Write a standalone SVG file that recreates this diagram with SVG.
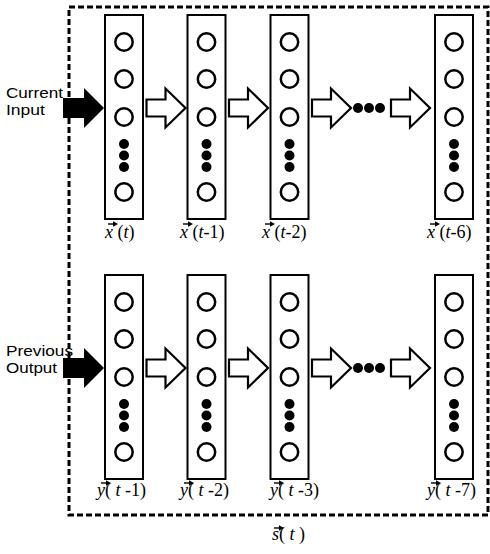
<svg xmlns="http://www.w3.org/2000/svg" width="490" height="554" viewBox="0 0 490 554">
  <style>
    .frame { fill: none; stroke: #000; stroke-width: 3; stroke-dasharray: 6 3; }
    .layer { fill: #fff; stroke: #000; stroke-width: 2; }
    .unit { fill: #fff; stroke: #000; stroke-width: 2.5; }
    .dot { fill: #000; }
    .hollow { fill: #fff; stroke: #000; stroke-width: 2.2; stroke-linejoin: miter; }
    .solid { fill: #000; }
    .side { font-family: "Liberation Sans", Arial, sans-serif; font-size: 15px; fill: #000; }
    .lbl { font-family: "Liberation Serif", "Times New Roman", serif; font-size: 18px; fill: #000; }
    .it { font-style: italic; }
    .vec { stroke: #000; stroke-width: 1.4; fill: none; }
    .vhead { fill: #000; }
  </style>
  <defs>
    <!-- one layer column: box, three units, ellipsis dots, last unit -->
    <g id="column">
      <rect class="layer" x="-19" y="0" width="38" height="204"/>
      <circle class="unit" cx="0" cy="27" r="8.7"/>
      <circle class="unit" cx="0" cy="64" r="8.7"/>
      <circle class="unit" cx="0" cy="102" r="8.7"/>
      <circle class="dot" cx="0" cy="129" r="5"/>
      <circle class="dot" cx="0" cy="140.5" r="5"/>
      <circle class="dot" cx="0" cy="152" r="5"/>
      <circle class="unit" cx="0" cy="177" r="8.7"/>
    </g>
    <path id="hollowArrow" class="hollow" d="M0,-8.5 H19 V-19.5 L39,0 L19,19.5 V8.5 H0 Z"/>
    <path id="solidArrow" class="solid" d="M0,-10 H21 V-20 L41,0 L21,20 V10 H0 Z"/>
    <g id="hdots">
      <circle class="dot" cx="0" cy="0" r="5"/>
      <circle class="dot" cx="11" cy="0" r="5"/>
      <circle class="dot" cx="22" cy="0" r="5"/>
    </g>
    <g id="vecArrow">
      <path class="vec" d="M0,0 H6"/>
      <path class="vhead" d="M5,-2.8 L10,0 L5,2.8 Z"/>
    </g>
  </defs>

  <!-- state boundary -->
  <rect id="state" class="frame" x="69" y="7" width="419" height="508"/>

  <!-- input history row -->
  <g id="x_t"><use href="#column" x="124" y="15"/></g>
  <g id="x_t1"><use href="#column" x="206.5" y="15"/></g>
  <g id="x_t2"><use href="#column" x="289.5" y="15"/></g>
  <g id="x_t6"><use href="#column" x="454" y="15"/></g>

  <!-- output history row -->
  <g id="y_t1"><use href="#column" x="124" y="275"/></g>
  <g id="y_t2"><use href="#column" x="206.5" y="275"/></g>
  <g id="y_t3"><use href="#column" x="289.5" y="275"/></g>
  <g id="y_t7"><use href="#column" x="454" y="275"/></g>

  <!-- connectors -->
  <g id="connectors">
    <use href="#solidArrow" x="63" y="108"/>
    <use href="#hollowArrow" x="146.5" y="108"/>
    <use href="#hollowArrow" x="229" y="108"/>
    <use href="#hollowArrow" x="312" y="108"/>
    <use href="#hdots" x="358" y="108"/>
    <use href="#hollowArrow" x="391" y="108"/>

    <use href="#solidArrow" x="63" y="368"/>
    <use href="#hollowArrow" x="146.5" y="368"/>
    <use href="#hollowArrow" x="229" y="368"/>
    <use href="#hollowArrow" x="312" y="368"/>
    <use href="#hdots" x="358" y="368"/>
    <use href="#hollowArrow" x="391" y="368"/>
  </g>

  <!-- side captions -->
  <text class="side" x="6" y="98" textLength="57" lengthAdjust="spacingAndGlyphs">Current</text>
  <text class="side" x="6" y="115" textLength="39" lengthAdjust="spacingAndGlyphs">Input</text>
  <text class="side" x="6" y="356" textLength="67" lengthAdjust="spacingAndGlyphs">Previous</text>
  <text class="side" x="6" y="373" textLength="51" lengthAdjust="spacingAndGlyphs">Output</text>

  <!-- layer labels -->
  <g id="labels">
    <text class="lbl" x="105" y="238"><tspan class="it">x</tspan> (<tspan class="it">t</tspan>)</text>
    <use href="#vecArrow" x="108" y="224"/>
    <text class="lbl" x="180" y="238"><tspan class="it">x</tspan> (<tspan class="it">t</tspan>-1)</text>
    <use href="#vecArrow" x="183" y="224"/>
    <text class="lbl" x="262" y="238"><tspan class="it">x</tspan> (<tspan class="it">t</tspan>-2)</text>
    <use href="#vecArrow" x="265" y="224"/>
    <text class="lbl" x="427" y="238"><tspan class="it">x</tspan> (<tspan class="it">t</tspan>-6)</text>
    <use href="#vecArrow" x="430" y="224"/>

    <text class="lbl" x="97" y="496"><tspan class="it">y</tspan>( <tspan class="it">t</tspan> -1)</text>
    <use href="#vecArrow" x="101" y="483"/>
    <text class="lbl" x="180" y="496"><tspan class="it">y</tspan>( <tspan class="it">t</tspan> -2)</text>
    <use href="#vecArrow" x="184" y="483"/>
    <text class="lbl" x="270" y="496"><tspan class="it">y</tspan>( <tspan class="it">t</tspan> -3)</text>
    <use href="#vecArrow" x="274" y="483"/>
    <text class="lbl" x="427" y="496"><tspan class="it">y</tspan>( <tspan class="it">t</tspan> -7)</text>
    <use href="#vecArrow" x="431" y="483"/>

    <text class="lbl" x="272" y="540"><tspan class="it">s</tspan>( <tspan class="it">t</tspan> )</text>
    <use href="#vecArrow" x="274" y="528"/>
  </g>
</svg>
